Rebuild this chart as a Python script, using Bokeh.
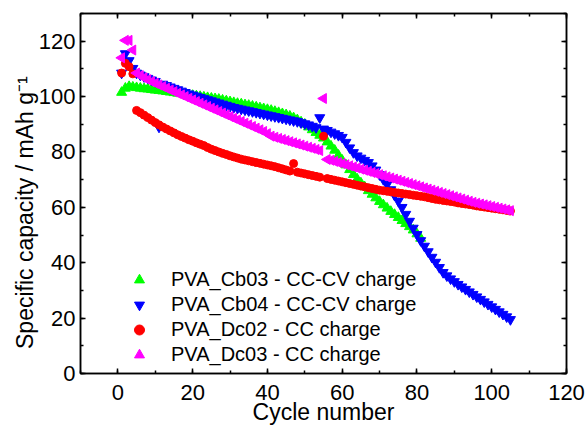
import math
from bokeh.plotting import figure
from bokeh.models import (LinearAxis, SingleIntervalTicker, CustomJSTickFormatter,
                          Range1d)
from bokeh.embed import file_html
from bokeh.resources import INLINE

FONT = "Liberation Sans"

# ---- data ----
cb03 = [101.5, 103.0, 103.6, 103.4, 103.2, 103.0, 102.8, 102.7, 102.5, 102.3,
        102.2, 102.0, 101.8, 101.6, 101.4, 101.2, 101.0, 100.8, 100.6, 100.4,
        100.2, 100.0, 99.8, 99.6, 99.4, 99.2, 99.0, 98.7, 98.4, 98.1,
        97.8, 97.5, 97.3, 97.0, 96.8, 96.5, 96.2, 95.9, 95.6, 95.3,
        95.0, 94.6, 94.2, 93.8, 93.4, 92.9, 92.3, 91.6, 90.8, 90.0,
        89.0, 88.0, 87.0, 86.0, 85.0, 83.6, 82.1, 80.6, 78.8, 77.0,
        75.3, 73.6, 71.8, 70.2, 68.8, 67.4, 66.0, 64.7, 63.4, 62.1,
        60.9, 59.7, 58.5, 57.4, 56.3, 55.2, 54.1, 53.0, 51.8, 50.4,
        48.8]

cb04 = [108.5, 115.5, 113.0, 110.2, 108.5, 107.8, 107.2, 106.6, 106.0, 105.5,
        89.0, 104.5, 104.0, 103.5, 103.0, 102.5, 102.0, 101.5, 101.0, 100.6,
        100.2, 99.7, 99.3, 98.9, 98.5, 98.1, 97.7, 97.3, 96.9, 96.5,
        96.1, 95.8, 95.5, 95.2, 94.9, 94.6, 94.3, 94.0, 93.7, 93.4,
        93.1, 92.8, 92.5, 92.2, 91.9, 91.6, 91.3, 91.0, 90.6, 90.2,
        89.8, 89.3, 88.8, 92.4, 88.3, 87.8, 87.2, 86.6, 86.0, 85.3,
        83.5, 81.5, 79.8, 78.6, 77.8, 77.0, 76.2, 75.0, 73.5, 71.8,
        70.1, 68.3, 66.4, 64.4, 62.3, 60.0, 57.5, 55.0, 52.5, 50.2,
        48.0, 46.0, 44.0, 42.0, 40.2, 38.3, 36.5, 35.3, 34.2, 33.2,
        32.2, 31.3, 30.4, 29.5, 28.6, 27.7, 26.8, 25.9, 25.0, 24.1,
        23.2, 22.3, 21.4, 20.5, 19.5]

dc02 = [108.5, 112.0, 110.8, 108.2, 95.0, 94.2, 93.3, 92.4, 91.5, 90.6,
        89.8, 89.0, 88.3, 87.6, 86.9, 86.2, 85.6, 85.0, 84.4, 83.9,
        83.3, 82.8, 82.3, 81.6, 81.0, 80.5, 80.0, 79.5, 79.1, 78.6,
        78.2, 77.8, 77.4, 77.1, 76.8, 76.5, 76.2, 75.9, 75.6, 75.3,
        75.0, 74.7, 74.3, 73.9, 73.5, 73.1, 75.8, 72.7, 72.4, 72.1,
        71.8, 71.5, 71.2, 70.9, 85.7, 70.4, 70.1, 69.8, 69.5, 69.2,
        68.9, 68.6, 68.3, 68.0, 67.7, 67.4, 67.1, 66.8, 66.5, 66.2,
        66.0, 65.8, 65.6, 65.4, 65.2, 65.0, 64.8, 64.6, 64.4, 64.2,
        64.0, 63.8, 63.5, 63.2, 62.9, 62.7, 62.5, 62.3, 62.1, 61.9,
        61.6, 61.4, 61.2, 61.0, 60.8, 60.5, 60.3, 60.1, 59.9, 59.7,
        59.5, 59.3, 59.1, 58.9, 58.7]

dc03 = [114.0, 120.3, 120.3, 116.8, 108.5, 107.6, 106.8, 106.1, 105.4, 104.8,
        104.2, 103.6, 103.0, 102.4, 101.8, 101.2, 100.6, 100.0, 99.4, 98.8,
        98.2, 97.6, 97.0, 96.4, 95.8, 95.2, 94.6, 94.0, 93.4, 92.8,
        92.2, 91.6, 91.0, 90.4, 89.8, 89.2, 88.6, 88.0, 87.4, 86.6,
        85.7, 85.3, 84.9, 84.5, 84.1, 83.7, 83.3, 82.9, 82.5, 82.1,
        81.7, 81.3, 80.9, 80.5, 99.3, 77.3, 77.0, 76.6, 76.2, 75.8,
        75.4, 75.0, 74.6, 74.2, 73.8, 73.4, 73.0, 72.6, 72.2, 71.8,
        71.4, 71.0, 70.6, 70.2, 69.8, 69.4, 69.0, 68.6, 68.2, 67.8,
        67.4, 67.0, 66.6, 66.2, 65.8, 65.4, 65.0, 64.6, 64.2, 63.8,
        63.4, 63.0, 62.6, 62.2, 61.8, 61.5, 61.2, 60.9, 60.6, 60.3,
        60.0, 59.7, 59.4, 59.1, 58.8]

cyc_cb03 = list(range(1, len(cb03) + 1))
cyc_cb04 = list(range(1, len(cb04) + 1))
cyc_dc02 = list(range(1, len(dc02) + 1))
cyc_dc03 = list(range(1, len(dc03) + 1))

labels = ["PVA_Cb03 - CC-CV charge", "PVA_Cb04 - CC-CV charge",
          "PVA_Dc02 - CC charge", "PVA_Dc03 - CC charge"]
x_title = "Cycle number"
y_title = "Specific capacity / mAh g\u207b\u00b9"

p = figure(width=586, height=427, output_backend="svg", toolbar_location=None,
           x_range=Range1d(-10, 120), y_range=Range1d(0, 130),
           min_border_left=80, min_border_right=20, min_border_top=13,
           min_border_bottom=53)
p.xgrid.visible = False
p.ygrid.visible = False
p.outline_line_color = "black"
p.outline_line_width = 1.5
p.background_fill_color = "white"
p.border_fill_color = "white"

p.scatter(cyc_cb03, cb03, marker="triangle", size=10, color="#00FF00",
          legend_label=labels[0])
p.scatter(cyc_cb04, cb04, marker="inverted_triangle", size=10, color="#0000FF",
          legend_label=labels[1])
p.scatter(cyc_dc02, dc02, marker="circle", size=8, color="#FF0000",
          legend_label=labels[2])
p.scatter(cyc_dc03, dc03, marker="triangle", angle=math.pi / 2, size=10,
          color="#FF00FF", legend_label=labels[3])

def style_axis(ax, labels_on=True):
    ax.ticker = SingleIntervalTicker(interval=20, num_minor_ticks=2)
    ax.axis_line_color = "black"
    ax.axis_line_width = 1.5
    ax.major_tick_in = 5
    ax.major_tick_out = 0
    ax.minor_tick_in = 3
    ax.minor_tick_out = 0
    ax.major_tick_line_width = 1.5
    ax.minor_tick_line_width = 1.5
    ax.major_tick_line_color = "black"
    ax.minor_tick_line_color = "black"
    if labels_on:
        ax.major_label_text_font = FONT
        ax.major_label_text_font_size = "22px"
        ax.major_label_text_color = "black"
        ax.axis_label_text_font = FONT
        ax.axis_label_text_font_size = "23px"
        ax.axis_label_text_font_style = "normal"
        ax.axis_label_text_color = "black"
    else:
        ax.formatter = CustomJSTickFormatter(code="return ''")
        ax.major_label_standoff = 0
        ax.major_label_text_font_size = "1px"

style_axis(p.xaxis[0])
style_axis(p.yaxis[0])
p.xaxis[0].major_label_standoff = 11
p.yaxis[0].major_label_standoff = 5
p.xaxis[0].axis_label = x_title
p.xaxis[0].axis_label_standoff = -4
# trailing no-break spaces shift the centred title down, as in the reference
p.yaxis[0].axis_label = y_title + "\u00a0" * 6
p.yaxis[0].axis_label_standoff = -2

top = LinearAxis()
right = LinearAxis()
p.add_layout(top, "above")
p.add_layout(right, "right")
style_axis(top, False)
style_axis(right, False)

lg = p.legend[0]
lg.location = (44, 6)
lg.border_line_color = None
lg.background_fill_alpha = 0
lg.label_text_font = FONT
lg.label_text_font_size = "20px"
lg.label_text_color = "black"
lg.glyph_width = 30
lg.glyph_height = 25
lg.label_standoff = 17
lg.label_height = 20
lg.spacing = 0
lg.padding = 0
lg.margin = 0

open("out.html", "w").write(file_html(p, INLINE))
